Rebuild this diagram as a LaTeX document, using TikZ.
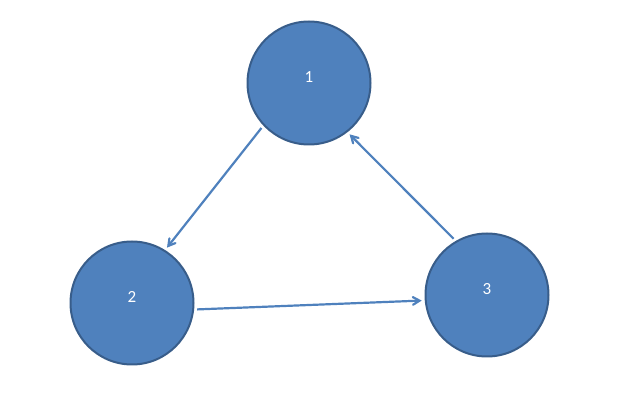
\documentclass[tikz,border=0pt]{standalone}
\usepackage{fontspec}
\setmainfont{Carlito}
\usepackage{tikz}
\usetikzlibrary{arrows}

\definecolor{nodeblue}{RGB}{79,129,189}
\definecolor{rimblue}{RGB}{56,93,138}

\begin{document}
\begin{tikzpicture}[x=1pt,y=-1pt]

\tikzset{vertex/.style = {shape=circle,draw=rimblue,line width=2pt,fill=nodeblue,text=white,minimum size=123pt,inner sep=0pt,text height=0pt,text depth=0pt,font=\fontsize{17}{20}\selectfont}}
\tikzset{edge/.style = {->,> = angle 60,draw=nodeblue,line width=2.2pt,shorten <=3pt,shorten >=3pt}}
\useasboundingbox (0,0) rectangle (635,403);
% vertices
\node[vertex] (1) at  (309,83) {1};
\node[vertex] (2) at  (132,303) {2};
\node[vertex] (3) at  (487,295) {3};

%edges
\draw[edge] (1.223) to (2.58);
\draw[edge] (2.-6) to (3.185);
\draw[edge] (3.120) to (1.308);
\end{tikzpicture}
\end{document}
